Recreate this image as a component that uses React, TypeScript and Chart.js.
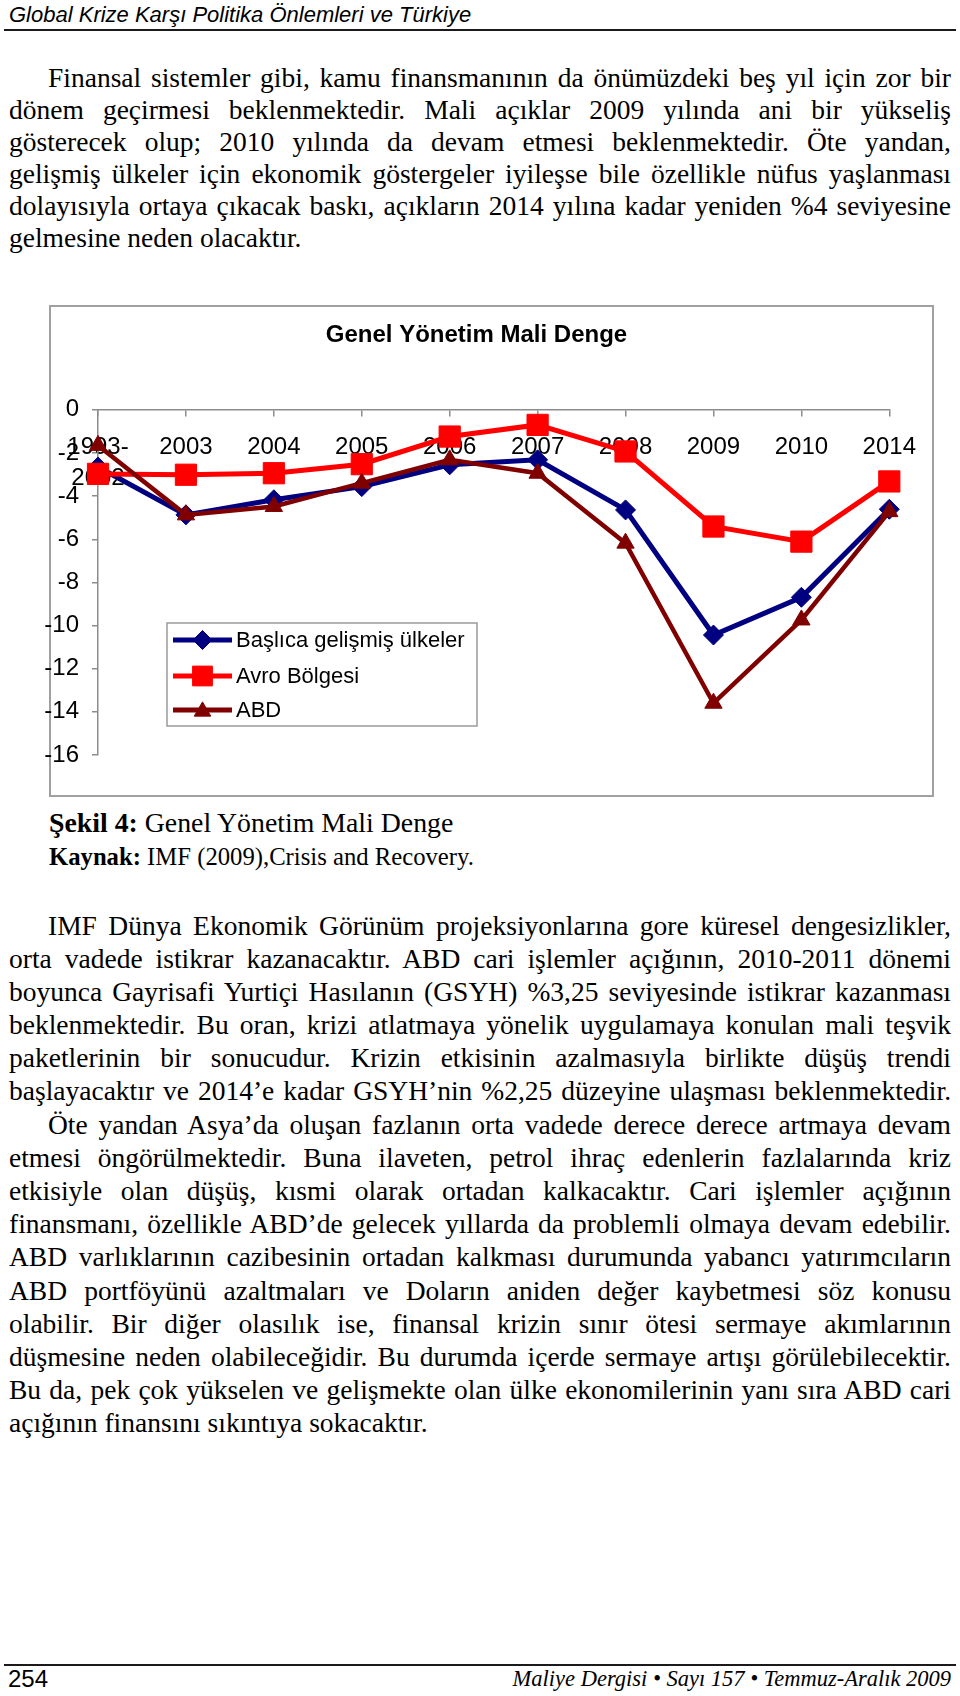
import React, { useEffect, useRef } from 'react';
import { Chart, registerables } from 'chart.js';

Chart.register(...registerables);

// ---------- data ----------
const categories: (string | string[])[] = [['1993-', '2002'], '2003', '2004', '2005', '2006', '2007', '2008', '2009', '2010', '2014'];
const seriesNames = ['Başlıca gelişmiş ülkeler', 'Avro Bölgesi', 'ABD'];
const developedValues = [-2.65, -4.87, -4.17, -3.56, -2.55, -2.32, -4.64, -10.44, -8.69, -4.61];
const euroValues = [-2.97, -3.01, -2.94, -2.52, -1.24, -0.7, -1.93, -5.41, -6.11, -3.32];
const usaValues = [-1.65, -4.87, -4.48, -3.4, -2.32, -2.94, -6.18, -13.6, -9.74, -4.72];
const yTickValues = [0, -2, -4, -6, -8, -10, -12, -14, -16];
const chartTitle = 'Genel Yönetim Mali Denge';

const SANS = '"Liberation Sans", Arial, Helvetica, sans-serif';
const SERIF = '"Liberation Serif", "Times New Roman", Times, serif';

const para1 = [
  'Finansal sistemler gibi, kamu finansmanının da önümüzdeki beş yıl için zor bir',
  'dönem geçirmesi beklenmektedir. Mali açıklar 2009 yılında ani bir yükseliş',
  'gösterecek olup; 2010 yılında da devam etmesi beklenmektedir. Öte yandan,',
  'gelişmiş ülkeler için ekonomik göstergeler iyileşse bile özellikle nüfus yaşlanması',
  'dolayısıyla ortaya çıkacak baskı, açıkların 2014 yılına kadar yeniden %4 seviyesine',
  'gelmesine neden olacaktır.',
];
const para1Last = [5];
const para1Indent = [0];

const para2 = [
  'IMF Dünya Ekonomik Görünüm projeksiyonlarına gore küresel dengesizlikler,',
  'orta vadede istikrar kazanacaktır. ABD cari işlemler açığının, 2010-2011 dönemi',
  'boyunca Gayrisafi Yurtiçi Hasılanın (GSYH) %3,25 seviyesinde istikrar kazanması',
  'beklenmektedir. Bu oran, krizi atlatmaya yönelik uygulamaya konulan mali teşvik',
  'paketlerinin bir sonucudur. Krizin etkisinin azalmasıyla birlikte düşüş trendi',
  'başlayacaktır ve 2014’e kadar GSYH’nin %2,25 düzeyine ulaşması beklenmektedir.',
  'Öte yandan Asya’da oluşan fazlanın orta vadede derece derece artmaya devam',
  'etmesi öngörülmektedir. Buna ilaveten, petrol ihraç edenlerin fazlalarında kriz',
  'etkisiyle olan düşüş, kısmi olarak ortadan kalkacaktır. Cari işlemler açığının',
  'finansmanı, özellikle ABD’de gelecek yıllarda da problemli olmaya devam edebilir.',
  'ABD varlıklarının cazibesinin ortadan kalkması durumunda yabancı yatırımcıların',
  'ABD portföyünü azaltmaları ve Doların aniden değer kaybetmesi söz konusu',
  'olabilir. Bir diğer olasılık ise, finansal krizin sınır ötesi sermaye akımlarının',
  'düşmesine neden olabileceğidir. Bu durumda içerde sermaye artışı görülebilecektir.',
  'Bu da, pek çok yükselen ve gelişmekte olan ülke ekonomilerinin yanı sıra ABD cari',
  'açığının finansını sıkıntıya sokacaktır.',
];
const para2Last = [15];
const para2Indent = [0, 6];

// ---------- legend plugin ----------
function drawMarker(ctx: CanvasRenderingContext2D, style: string, x: number, y: number, r: number, color: string) {
  ctx.save();
  ctx.fillStyle = color;
  ctx.strokeStyle = color;
  ctx.lineWidth = 1;
  ctx.beginPath();
  if (style === 'rectRot') {
    ctx.moveTo(x, y - r);
    ctx.lineTo(x + r, y);
    ctx.lineTo(x, y + r);
    ctx.lineTo(x - r, y);
    ctx.closePath();
  } else if (style === 'rect') {
    const s = Math.SQRT1_2 * r;
    ctx.rect(x - s, y - s, 2 * s, 2 * s);
  } else {
    const h = r * 1.5;
    const w = r * Math.sqrt(3);
    ctx.moveTo(x, y - h / 2 - 1);
    ctx.lineTo(x + w / 2, y + h / 2 - 1);
    ctx.lineTo(x - w / 2, y + h / 2 - 1);
    ctx.closePath();
  }
  ctx.fill();
  ctx.stroke();
  ctx.restore();
}

const boxLegend = {
  id: 'boxLegend',
  afterDraw(chart: any) {
    const ctx: CanvasRenderingContext2D = chart.ctx;
    const x0 = 137, y0 = 316, w = 310, h = 103;
    ctx.save();
    ctx.fillStyle = '#ffffff';
    ctx.fillRect(x0, y0, w, h);
    ctx.strokeStyle = '#9a9a9a';
    ctx.lineWidth = 1.5;
    ctx.strokeRect(x0, y0, w, h);
    const rows = [17, 53, 87];
    chart.data.datasets.forEach((ds: any, i: number) => {
      const cy = y0 + rows[i];
      ctx.strokeStyle = ds.borderColor;
      ctx.lineWidth = 5;
      ctx.beginPath();
      ctx.moveTo(x0 + 6, cy);
      ctx.lineTo(x0 + 65, cy);
      ctx.stroke();
      drawMarker(ctx, ds.pointStyle, x0 + 35.5, cy, ds.pointStyle === 'rect' ? 14 : 9.5, ds.borderColor);
      ctx.fillStyle = '#000';
      ctx.font = '22px ' + SANS;
      ctx.textBaseline = 'middle';
      ctx.textAlign = 'left';
      ctx.fillText(ds.label, x0 + 69, cy + 1);
    });
    ctx.restore();
  },
};

// let the y tick labels run to the canvas' left edge (they overhang the frame, as in the reference)
const widenYLabelArea = {
  id: 'widenYLabelArea',
  afterLayout(chart: any) {
    const y = chart.scales.y;
    if (y) y.left = 0;
  },
};

function ChartBox() {
  const ref = useRef<HTMLCanvasElement | null>(null);
  useEffect(() => {
    if (!ref.current) return;
    const chart = new Chart(ref.current, {
      type: 'line',
      data: {
        labels: categories as any,
        datasets: [
          {
            label: seriesNames[0],
            data: developedValues,
            borderColor: '#000080',
            backgroundColor: '#000080',
            borderWidth: 5,
            pointStyle: 'rectRot',
            pointRadius: 10,
            pointBorderWidth: 1,
            tension: 0,
            clip: false as any,
            order: 2,
          },
          {
            label: seriesNames[1],
            data: euroValues,
            borderColor: '#ff0000',
            backgroundColor: '#ff0000',
            borderWidth: 5,
            pointStyle: 'rect',
            pointRadius: 15,
            pointBorderWidth: 1,
            tension: 0,
            clip: false as any,
            order: 1,
          },
          {
            label: seriesNames[2],
            data: usaValues,
            borderColor: '#800000',
            backgroundColor: '#800000',
            borderWidth: 4.5,
            pointStyle: 'triangle',
            pointRadius: 10,
            pointBorderWidth: 1,
            tension: 0,
            clip: false as any,
            order: 0,
          },
        ],
      },
      options: {
        responsive: false,
        animation: false,
        devicePixelRatio: 1,
        events: [],
        layout: { padding: { left: 32, right: 41, top: 0, bottom: 40 } },
        plugins: {
          legend: { display: false },
          tooltip: { enabled: false },
          title: {
            display: true,
            text: chartTitle,
            color: '#000',
            font: { family: SANS, size: 24, weight: 'bold' },
            padding: { top: 14, bottom: 60 },
          },
        },
        scales: {
          x: {
            type: 'category',
            position: { y: 0 } as any,
            offset: false,
            grid: { display: true, drawOnChartArea: false, drawTicks: true, tickLength: 6, color: '#8c8c8c', lineWidth: 1.5 },
            border: { display: true, color: '#8c8c8c', width: 1.5 },
            ticks: {
              autoSkip: false,
              maxRotation: 0,
              minRotation: 0,
              padding: 16,
              color: '#000',
              font: { family: SANS, size: 24, lineHeight: 1.28 },
            },
          },
          y: {
            type: 'linear',
            min: -16,
            max: 0,
            afterBuildTicks: (scale: any) => {
              scale.ticks = yTickValues.map((v) => ({ value: v }));
            },
            afterFit: (scale: any) => {
              scale.width = 36;
            },
            grid: { drawOnChartArea: false, drawTicks: true, tickLength: 6, color: '#8c8c8c', lineWidth: 1.5 },
            border: { display: true, color: '#8c8c8c', width: 1.5 },
            ticks: {
              padding: 13,
              color: '#000',
              font: { family: SANS, size: 24 },
              callback: (v: any) => String(v),
            },
          },
        },
      },
      plugins: [boxLegend, widenYLabelArea],
    } as any);
    return () => chart.destroy();
  }, []);
  return (
    <canvas
      ref={ref}
      width={902}
      height={488}
      style={{ position: 'absolute', left: 30, top: 307, display: 'block', width: 902, height: 488 }}
    />
  );
}

function Paragraph({ lines, top, lh, lastIdx, indentIdx }: { lines: string[]; top: number; lh: number; lastIdx: number[]; indentIdx: number[] }) {
  return (
    <div style={{ position: 'absolute', left: 9, top, width: 942, fontFamily: SERIF, fontSize: 27.5, color: '#000' }}>
      {lines.map((t, i) => (
        <div
          key={i}
          style={{
            height: lh,
            lineHeight: lh + 'px',
            textAlign: 'justify',
            textAlignLast: lastIdx.includes(i) ? 'left' : 'justify',
            paddingLeft: indentIdx.includes(i) ? 39 : 0,
            overflow: 'visible',
          } as any}
        >
          {t}
        </div>
      ))}
    </div>
  );
}

export default function App() {
  return (
    <div style={{ position: 'absolute', left: 0, top: 0, width: 960, height: 1696, background: '#fff', overflow: 'hidden' }}>
      <div style={{ position: 'absolute', left: 9, top: 3, fontFamily: SANS, fontStyle: 'italic', fontSize: 22, lineHeight: '24px', color: '#000', whiteSpace: 'nowrap' }}>
        Global Krize Karşı Politika Önlemleri ve Türkiye
      </div>
      <div style={{ position: 'absolute', left: 4, top: 29, width: 952, height: 2, background: '#1a1a1a' }} />

      <Paragraph lines={para1} top={61.5} lh={32.2} lastIdx={para1Last} indentIdx={para1Indent} />

      <div style={{ position: 'absolute', left: 49, top: 305, width: 885, height: 492, border: '2px solid #a0a0a0', boxSizing: 'border-box', background: '#fff' }} />
      <ChartBox />

      <div style={{ position: 'absolute', left: 49, top: 805, fontFamily: SERIF, fontSize: 27.8, lineHeight: '36px', color: '#000', whiteSpace: 'nowrap' }}>
        <b>Şekil 4:</b> Genel Yönetim Mali Denge
      </div>
      <div style={{ position: 'absolute', left: 49, top: 841, fontFamily: SERIF, fontSize: 24.7, lineHeight: '32px', color: '#000', whiteSpace: 'nowrap' }}>
        <b>Kaynak:</b> IMF (2009),Crisis and Recovery.
      </div>

      <Paragraph lines={para2} top={908.5} lh={33.2} lastIdx={para2Last} indentIdx={para2Indent} />

      <div style={{ position: 'absolute', left: 4, top: 1664, width: 952, height: 2, background: '#1a1a1a' }} />
      <div style={{ position: 'absolute', left: 8, top: 1665, fontFamily: SANS, fontSize: 24, lineHeight: '28px', color: '#000' }}>254</div>
      <div style={{ position: 'absolute', right: 9, top: 1665, fontFamily: SERIF, fontStyle: 'italic', fontSize: 22.5, lineHeight: '28px', color: '#000', whiteSpace: 'nowrap' }}>
        Maliye Dergisi • Sayı 157 • Temmuz-Aralık 2009
      </div>
    </div>
  );
}
